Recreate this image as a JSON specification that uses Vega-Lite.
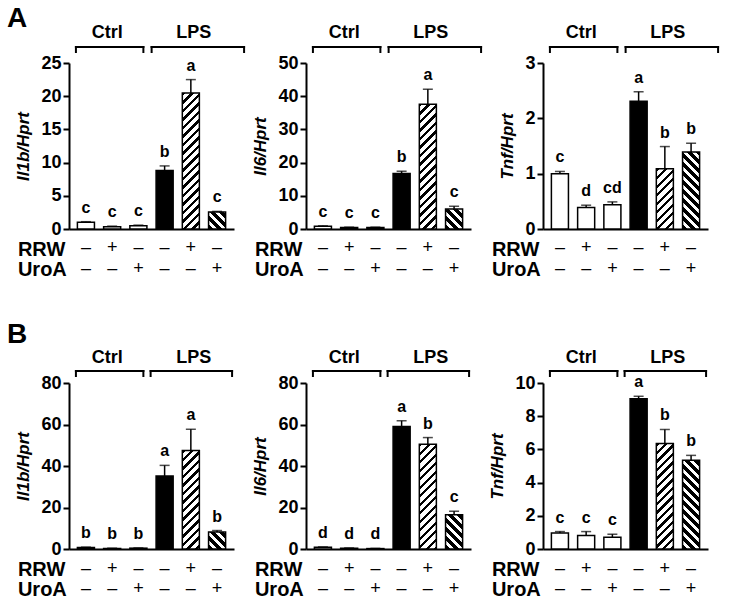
{
"$schema":"https://vega.github.io/schema/vega-lite/v6.json",
"background":"white",
"padding":{"left":7,"top":5,"right":5,"bottom":5},
"autosize":{"type":"pad"},
"params":[
{"name":"stopsR","value":[{"offset":0,"color":"#000"},{"offset":0.02,"color":"#000"},{"offset":0.02,"color":"#fff"},{"offset":0.05,"color":"#fff"},
{"offset":0.05,"color":"#000"},{"offset":0.07,"color":"#000"},{"offset":0.07,"color":"#fff"},{"offset":0.1,"color":"#fff"},
{"offset":0.1,"color":"#000"},{"offset":0.12,"color":"#000"},{"offset":0.12,"color":"#fff"},{"offset":0.15,"color":"#fff"},
{"offset":0.15,"color":"#000"},{"offset":0.17,"color":"#000"},{"offset":0.17,"color":"#fff"},{"offset":0.2,"color":"#fff"},
{"offset":0.2,"color":"#000"},{"offset":0.22,"color":"#000"},{"offset":0.22,"color":"#fff"},{"offset":0.25,"color":"#fff"},
{"offset":0.25,"color":"#000"},{"offset":0.27,"color":"#000"},{"offset":0.27,"color":"#fff"},{"offset":0.3,"color":"#fff"},
{"offset":0.3,"color":"#000"},{"offset":0.32,"color":"#000"},{"offset":0.32,"color":"#fff"},{"offset":0.35,"color":"#fff"},
{"offset":0.35,"color":"#000"},{"offset":0.37,"color":"#000"},{"offset":0.37,"color":"#fff"},{"offset":0.4,"color":"#fff"},
{"offset":0.4,"color":"#000"},{"offset":0.42,"color":"#000"},{"offset":0.42,"color":"#fff"},{"offset":0.45,"color":"#fff"},
{"offset":0.45,"color":"#000"},{"offset":0.47,"color":"#000"},{"offset":0.47,"color":"#fff"},{"offset":0.5,"color":"#fff"},
{"offset":0.5,"color":"#000"},{"offset":0.52,"color":"#000"},{"offset":0.52,"color":"#fff"},{"offset":0.55,"color":"#fff"},
{"offset":0.55,"color":"#000"},{"offset":0.57,"color":"#000"},{"offset":0.57,"color":"#fff"},{"offset":0.6,"color":"#fff"},
{"offset":0.6,"color":"#000"},{"offset":0.62,"color":"#000"},{"offset":0.62,"color":"#fff"},{"offset":0.65,"color":"#fff"},
{"offset":0.65,"color":"#000"},{"offset":0.67,"color":"#000"},{"offset":0.67,"color":"#fff"},{"offset":0.7,"color":"#fff"},
{"offset":0.7,"color":"#000"},{"offset":0.72,"color":"#000"},{"offset":0.72,"color":"#fff"},{"offset":0.75,"color":"#fff"},
{"offset":0.75,"color":"#000"},{"offset":0.77,"color":"#000"},{"offset":0.77,"color":"#fff"},{"offset":0.8,"color":"#fff"},
{"offset":0.8,"color":"#000"},{"offset":0.82,"color":"#000"},{"offset":0.82,"color":"#fff"},{"offset":0.85,"color":"#fff"},
{"offset":0.85,"color":"#000"},{"offset":0.87,"color":"#000"},{"offset":0.87,"color":"#fff"},{"offset":0.9,"color":"#fff"},
{"offset":0.9,"color":"#000"},{"offset":0.92,"color":"#000"},{"offset":0.92,"color":"#fff"},{"offset":0.95,"color":"#fff"},
{"offset":0.95,"color":"#000"},{"offset":0.97,"color":"#000"},{"offset":0.97,"color":"#fff"},{"offset":1,"color":"#fff"}]},
{"name":"stopsU","value":[{"offset":0,"color":"#000"},{"offset":0.0417,"color":"#000"},{"offset":0.0417,"color":"#fff"},{"offset":0.0833,"color":"#fff"},
{"offset":0.0833,"color":"#000"},{"offset":0.125,"color":"#000"},{"offset":0.125,"color":"#fff"},{"offset":0.1667,"color":"#fff"},
{"offset":0.1667,"color":"#000"},{"offset":0.2083,"color":"#000"},{"offset":0.2083,"color":"#fff"},{"offset":0.25,"color":"#fff"},
{"offset":0.25,"color":"#000"},{"offset":0.2917,"color":"#000"},{"offset":0.2917,"color":"#fff"},{"offset":0.3333,"color":"#fff"},
{"offset":0.3333,"color":"#000"},{"offset":0.375,"color":"#000"},{"offset":0.375,"color":"#fff"},{"offset":0.4167,"color":"#fff"},
{"offset":0.4167,"color":"#000"},{"offset":0.4583,"color":"#000"},{"offset":0.4583,"color":"#fff"},{"offset":0.5,"color":"#fff"},
{"offset":0.5,"color":"#000"},{"offset":0.5417,"color":"#000"},{"offset":0.5417,"color":"#fff"},{"offset":0.5833,"color":"#fff"},
{"offset":0.5833,"color":"#000"},{"offset":0.625,"color":"#000"},{"offset":0.625,"color":"#fff"},{"offset":0.6667,"color":"#fff"},
{"offset":0.6667,"color":"#000"},{"offset":0.7083,"color":"#000"},{"offset":0.7083,"color":"#fff"},{"offset":0.75,"color":"#fff"},
{"offset":0.75,"color":"#000"},{"offset":0.7917,"color":"#000"},{"offset":0.7917,"color":"#fff"},{"offset":0.8333,"color":"#fff"},
{"offset":0.8333,"color":"#000"},{"offset":0.875,"color":"#000"},{"offset":0.875,"color":"#fff"},{"offset":0.9167,"color":"#fff"},
{"offset":0.9167,"color":"#000"},{"offset":0.9583,"color":"#000"},{"offset":0.9583,"color":"#fff"},{"offset":1,"color":"#fff"}]}
],
"datasets":{
"bars":[
{"panel":"A1","key":"Ctrl|–|–","grp":"Ctrl","trt":"none","rrw":"–","uroa":"–","mean":1.0,"hi":1.1,"letter":"c"},
{"panel":"A1","key":"Ctrl|+|–","grp":"Ctrl","trt":"RRW","rrw":"+","uroa":"–","mean":0.35,"hi":0.43,"letter":"c"},
{"panel":"A1","key":"Ctrl|–|+","grp":"Ctrl","trt":"UroA","rrw":"–","uroa":"+","mean":0.5,"hi":0.58,"letter":"c"},
{"panel":"A1","key":"LPS|–|–","grp":"LPS","trt":"none","rrw":"–","uroa":"–","mean":8.8,"hi":9.5,"letter":"b"},
{"panel":"A1","key":"LPS|+|–","grp":"LPS","trt":"RRW","rrw":"+","uroa":"–","mean":20.5,"hi":22.5,"letter":"a"},
{"panel":"A1","key":"LPS|–|+","grp":"LPS","trt":"UroA","rrw":"–","uroa":"+","mean":2.55,"hi":2.65,"letter":"c"},
{"panel":"A2","key":"Ctrl|–|–","grp":"Ctrl","trt":"none","rrw":"–","uroa":"–","mean":0.8,"hi":0.95,"letter":"c"},
{"panel":"A2","key":"Ctrl|+|–","grp":"Ctrl","trt":"RRW","rrw":"+","uroa":"–","mean":0.45,"hi":0.55,"letter":"c"},
{"panel":"A2","key":"Ctrl|–|+","grp":"Ctrl","trt":"UroA","rrw":"–","uroa":"+","mean":0.45,"hi":0.55,"letter":"c"},
{"panel":"A2","key":"LPS|–|–","grp":"LPS","trt":"none","rrw":"–","uroa":"–","mean":16.7,"hi":17.4,"letter":"b"},
{"panel":"A2","key":"LPS|+|–","grp":"LPS","trt":"RRW","rrw":"+","uroa":"–","mean":37.6,"hi":42.1,"letter":"a"},
{"panel":"A2","key":"LPS|–|+","grp":"LPS","trt":"UroA","rrw":"–","uroa":"+","mean":6.0,"hi":6.85,"letter":"c"},
{"panel":"A3","key":"Ctrl|–|–","grp":"Ctrl","trt":"none","rrw":"–","uroa":"–","mean":1.0,"hi":1.04,"letter":"c"},
{"panel":"A3","key":"Ctrl|+|–","grp":"Ctrl","trt":"RRW","rrw":"+","uroa":"–","mean":0.39,"hi":0.43,"letter":"d"},
{"panel":"A3","key":"Ctrl|–|+","grp":"Ctrl","trt":"UroA","rrw":"–","uroa":"+","mean":0.44,"hi":0.49,"letter":"cd"},
{"panel":"A3","key":"LPS|–|–","grp":"LPS","trt":"none","rrw":"–","uroa":"–","mean":2.31,"hi":2.48,"letter":"a"},
{"panel":"A3","key":"LPS|+|–","grp":"LPS","trt":"RRW","rrw":"+","uroa":"–","mean":1.09,"hi":1.49,"letter":"b"},
{"panel":"A3","key":"LPS|–|+","grp":"LPS","trt":"UroA","rrw":"–","uroa":"+","mean":1.39,"hi":1.55,"letter":"b"},
{"panel":"B1","key":"Ctrl|–|–","grp":"Ctrl","trt":"none","rrw":"–","uroa":"–","mean":0.7,"hi":0.9,"letter":"b"},
{"panel":"B1","key":"Ctrl|+|–","grp":"Ctrl","trt":"RRW","rrw":"+","uroa":"–","mean":0.3,"hi":0.4,"letter":"b"},
{"panel":"B1","key":"Ctrl|–|+","grp":"Ctrl","trt":"UroA","rrw":"–","uroa":"+","mean":0.4,"hi":0.5,"letter":"b"},
{"panel":"B1","key":"LPS|–|–","grp":"LPS","trt":"none","rrw":"–","uroa":"–","mean":35.2,"hi":40.3,"letter":"a"},
{"panel":"B1","key":"LPS|+|–","grp":"LPS","trt":"RRW","rrw":"+","uroa":"–","mean":47.5,"hi":57.7,"letter":"a"},
{"panel":"B1","key":"LPS|–|+","grp":"LPS","trt":"UroA","rrw":"–","uroa":"+","mean":8.2,"hi":8.9,"letter":"b"},
{"panel":"B2","key":"Ctrl|–|–","grp":"Ctrl","trt":"none","rrw":"–","uroa":"–","mean":0.8,"hi":1.0,"letter":"d"},
{"panel":"B2","key":"Ctrl|+|–","grp":"Ctrl","trt":"RRW","rrw":"+","uroa":"–","mean":0.4,"hi":0.5,"letter":"d"},
{"panel":"B2","key":"Ctrl|–|+","grp":"Ctrl","trt":"UroA","rrw":"–","uroa":"+","mean":0.2,"hi":0.3,"letter":"d"},
{"panel":"B2","key":"LPS|–|–","grp":"LPS","trt":"none","rrw":"–","uroa":"–","mean":59.0,"hi":61.8,"letter":"a"},
{"panel":"B2","key":"LPS|+|–","grp":"LPS","trt":"RRW","rrw":"+","uroa":"–","mean":50.5,"hi":53.7,"letter":"b"},
{"panel":"B2","key":"LPS|–|+","grp":"LPS","trt":"UroA","rrw":"–","uroa":"+","mean":16.5,"hi":18.2,"letter":"c"},
{"panel":"B3","key":"Ctrl|–|–","grp":"Ctrl","trt":"none","rrw":"–","uroa":"–","mean":0.97,"hi":1.05,"letter":"c"},
{"panel":"B3","key":"Ctrl|+|–","grp":"Ctrl","trt":"RRW","rrw":"+","uroa":"–","mean":0.81,"hi":1.05,"letter":"c"},
{"panel":"B3","key":"Ctrl|–|+","grp":"Ctrl","trt":"UroA","rrw":"–","uroa":"+","mean":0.71,"hi":0.89,"letter":"c"},
{"panel":"B3","key":"LPS|–|–","grp":"LPS","trt":"none","rrw":"–","uroa":"–","mean":9.05,"hi":9.2,"letter":"a"},
{"panel":"B3","key":"LPS|+|–","grp":"LPS","trt":"RRW","rrw":"+","uroa":"–","mean":6.35,"hi":7.2,"letter":"b"},
{"panel":"B3","key":"LPS|–|+","grp":"LPS","trt":"UroA","rrw":"–","uroa":"+","mean":5.35,"hi":5.64,"letter":"b"}
],
"br":[
{"grp":"Ctrl","first":"Ctrl|–|–","mid":"Ctrl|+|–","last":"Ctrl|–|+"},
{"grp":"LPS","first":"LPS|–|–","mid":"LPS|+|–","last":"LPS|–|+"}
]
},
"columns":3,
"spacing":{"row":154,"column":72},
"bounds":"flush",
"concat":[
{
 "width":165,"height":166,
 "title":{"text":"A","anchor":"start","frame":"group","fontSize":28,"fontWeight":"bold","font":"Liberation Sans","color":"black","dx":-62,"dy":9,"offset":0},
 "resolve":{"axis":{"x":"independent","y":"independent"}},
 "layer":[
  {"data":{"name":"bars"},"transform":[{"filter":"datum.panel=='A1'"}],"mark":{"type":"rule","color":"black","strokeWidth":1.5},
   "encoding":{"x":{"field":"key","type":"nominal","scale":{"domain":["Ctrl|–|–","Ctrl|+|–","Ctrl|–|+","LPS|–|–","LPS|+|–","LPS|–|+"],"paddingInner":0.35,"paddingOuter":0.32},"axis":{"title":null,"labels":false,"ticks":false,"grid":false,"domainColor":"black","domainWidth":2}},
    "y":{"field":"mean","type":"quantitative","scale":{"domain":[0,25],"nice":false},"axis":{"title":"Il1b/Hprt","values":[0,5,10,15,20,25],"format":".0f","zindex":1,"grid":false,"domainColor":"black","domainWidth":2,"tickColor":"black","tickWidth":2,"tickSize":6,"labelFont":"Liberation Sans","labelFontSize":18,"labelFontWeight":"bold","labelColor":"black","labelPadding":2,"labelFlush":false,"labelOverlap":false,"labelBound":false,"titleFont":"Liberation Sans","titleFontSize":17,"titleFontStyle":"italic","titleFontWeight":"bold","titleColor":"black","titlePadding":8}},"y2":{"field":"hi"}}},
  {"data":{"name":"bars"},"transform":[{"filter":"datum.panel=='A1'"}],"mark":{"type":"tick","color":"black","thickness":1.5,"size":10},
   "encoding":{"x":{"field":"key","type":"nominal","scale":{"domain":["Ctrl|–|–","Ctrl|+|–","Ctrl|–|+","LPS|–|–","LPS|+|–","LPS|–|+"],"paddingInner":0.35,"paddingOuter":0.32},"axis":null},"y":{"field":"hi","type":"quantitative","scale":{"domain":[0,25],"nice":false},"axis":null}}},
  {"data":{"name":"bars"},"transform":[{"filter":"datum.panel=='A1'"}],"mark":{"type":"bar","stroke":"black","strokeWidth":1.5,"fill":{"expr":"datum.grp=='Ctrl'?'white':datum.trt=='none'?'black':datum.trt=='RRW'?{gradient:'linear',x1:0,y1:0,x2:2898.5/(290.7+pow(6.64*datum.mean,2)),y2:170*6.64*datum.mean/(290.7+pow(6.64*datum.mean,2)),stops:stopsR}:{gradient:'linear',x1:0,y1:1,x2:1841.4/(290.7+pow(6.64*datum.mean,2)),y2:1-108*6.64*datum.mean/(290.7+pow(6.64*datum.mean,2)),stops:stopsU}"}},
   "encoding":{"x":{"field":"key","type":"nominal","scale":{"domain":["Ctrl|–|–","Ctrl|+|–","Ctrl|–|+","LPS|–|–","LPS|+|–","LPS|–|+"],"paddingInner":0.35,"paddingOuter":0.32},"axis":null},"y":{"field":"mean","type":"quantitative","scale":{"domain":[0,25],"nice":false},"axis":null}}},
  {"data":{"name":"bars"},"transform":[{"filter":"datum.panel=='A1'"}],"mark":{"type":"text","dy":-9,"baseline":"alphabetic","fontSize":16,"fontWeight":"bold","color":"black"},
   "encoding":{"x":{"field":"key","type":"nominal","scale":{"domain":["Ctrl|–|–","Ctrl|+|–","Ctrl|–|+","LPS|–|–","LPS|+|–","LPS|–|+"],"paddingInner":0.35,"paddingOuter":0.32},"axis":null},"y":{"field":"hi","type":"quantitative","scale":{"domain":[0,25],"nice":false},"axis":null},"text":{"field":"letter"}}},
  {"data":{"name":"bars"},"transform":[{"filter":"datum.panel=='A1'"}],"mark":{"type":"text","dy":24,"baseline":"alphabetic","fontSize":18,"color":"black"},
   "encoding":{"x":{"field":"key","type":"nominal","scale":{"domain":["Ctrl|–|–","Ctrl|+|–","Ctrl|–|+","LPS|–|–","LPS|+|–","LPS|–|+"],"paddingInner":0.35,"paddingOuter":0.32},"axis":null},"y":{"datum":0,"type":"quantitative","scale":{"domain":[0,25],"nice":false},"axis":null},"text":{"field":"rrw"}}},
  {"data":{"name":"bars"},"transform":[{"filter":"datum.panel=='A1'"}],"mark":{"type":"text","dy":45,"baseline":"alphabetic","fontSize":18,"color":"black"},
   "encoding":{"x":{"field":"key","type":"nominal","scale":{"domain":["Ctrl|–|–","Ctrl|+|–","Ctrl|–|+","LPS|–|–","LPS|+|–","LPS|–|+"],"paddingInner":0.35,"paddingOuter":0.32},"axis":null},"y":{"datum":0,"type":"quantitative","scale":{"domain":[0,25],"nice":false},"axis":null},"text":{"field":"uroa"}}},
  {"data":{"name":"br"},"transform":[{"filter":"datum.grp=='Ctrl'"}],"mark":{"type":"text","dy":26.5,"xOffset":-68,"align":"left","baseline":"alphabetic","fontSize":20,"fontWeight":"bold","color":"black","lineHeight":20.5,"text":["RRW","UroA"]},
   "encoding":{"x":{"field":"first","type":"nominal","scale":{"domain":["Ctrl|–|–","Ctrl|+|–","Ctrl|–|+","LPS|–|–","LPS|+|–","LPS|–|+"],"paddingInner":0.35,"paddingOuter":0.32},"axis":null},"y":{"datum":0,"type":"quantitative","scale":{"domain":[0,25],"nice":false},"axis":null}}},
  {"data":{"name":"br"},"mark":{"type":"rule","color":"black","strokeWidth":2,"strokeCap":"square","yOffset":-16,"xOffset":{"expr":"datum.grp=='Ctrl'?-10:-13"},"x2Offset":{"expr":"datum.grp=='Ctrl'?5:27"}},
   "encoding":{"x":{"field":"first","type":"nominal","scale":{"domain":["Ctrl|–|–","Ctrl|+|–","Ctrl|–|+","LPS|–|–","LPS|+|–","LPS|–|+"],"paddingInner":0.35,"paddingOuter":0.32},"axis":null},"x2":{"field":"last"},"y":{"datum":25,"type":"quantitative","scale":{"domain":[0,25],"nice":false},"axis":null}}},
  {"data":{"name":"br"},"mark":{"type":"rule","color":"black","strokeWidth":2,"strokeCap":"square","yOffset":-16,"y2Offset":-11,"xOffset":{"expr":"datum.grp=='Ctrl'?-10:-13"}},
   "encoding":{"x":{"field":"first","type":"nominal","scale":{"domain":["Ctrl|–|–","Ctrl|+|–","Ctrl|–|+","LPS|–|–","LPS|+|–","LPS|–|+"],"paddingInner":0.35,"paddingOuter":0.32},"axis":null},"y":{"datum":25,"type":"quantitative","scale":{"domain":[0,25],"nice":false},"axis":null},"y2":{"datum":25}}},
  {"data":{"name":"br"},"mark":{"type":"rule","color":"black","strokeWidth":2,"strokeCap":"square","yOffset":-16,"y2Offset":-11,"xOffset":{"expr":"datum.grp=='Ctrl'?5:27"}},
   "encoding":{"x":{"field":"last","type":"nominal","scale":{"domain":["Ctrl|–|–","Ctrl|+|–","Ctrl|–|+","LPS|–|–","LPS|+|–","LPS|–|+"],"paddingInner":0.35,"paddingOuter":0.32},"axis":null},"y":{"datum":25,"type":"quantitative","scale":{"domain":[0,25],"nice":false},"axis":null},"y2":{"datum":25}}},
  {"data":{"name":"br"},"mark":{"type":"text","dy":-30,"baseline":"middle","fontSize":18,"fontWeight":"bold","color":"black","xOffset":{"expr":"datum.grp=='Ctrl'?-5:3"}},
   "encoding":{"x":{"field":"mid","type":"nominal","scale":{"domain":["Ctrl|–|–","Ctrl|+|–","Ctrl|–|+","LPS|–|–","LPS|+|–","LPS|–|+"],"paddingInner":0.35,"paddingOuter":0.32},"axis":null},"y":{"datum":25,"type":"quantitative","scale":{"domain":[0,25],"nice":false},"axis":null},"text":{"field":"grp"}}}
 ]
},
{
 "width":165,"height":166,
 "resolve":{"axis":{"x":"independent","y":"independent"}},
 "layer":[
  {"data":{"name":"bars"},"transform":[{"filter":"datum.panel=='A2'"}],"mark":{"type":"rule","color":"black","strokeWidth":1.5},
   "encoding":{"x":{"field":"key","type":"nominal","scale":{"domain":["Ctrl|–|–","Ctrl|+|–","Ctrl|–|+","LPS|–|–","LPS|+|–","LPS|–|+"],"paddingInner":0.35,"paddingOuter":0.32},"axis":{"title":null,"labels":false,"ticks":false,"grid":false,"domainColor":"black","domainWidth":2}},
    "y":{"field":"mean","type":"quantitative","scale":{"domain":[0,50],"nice":false},"axis":{"title":"Il6/Hprt","values":[0,10,20,30,40,50],"format":".0f","zindex":1,"grid":false,"domainColor":"black","domainWidth":2,"tickColor":"black","tickWidth":2,"tickSize":6,"labelFont":"Liberation Sans","labelFontSize":18,"labelFontWeight":"bold","labelColor":"black","labelPadding":2,"labelFlush":false,"labelOverlap":false,"labelBound":false,"titleFont":"Liberation Sans","titleFontSize":17,"titleFontStyle":"italic","titleFontWeight":"bold","titleColor":"black","titlePadding":8}},"y2":{"field":"hi"}}},
  {"data":{"name":"bars"},"transform":[{"filter":"datum.panel=='A2'"}],"mark":{"type":"tick","color":"black","thickness":1.5,"size":10},
   "encoding":{"x":{"field":"key","type":"nominal","scale":{"domain":["Ctrl|–|–","Ctrl|+|–","Ctrl|–|+","LPS|–|–","LPS|+|–","LPS|–|+"],"paddingInner":0.35,"paddingOuter":0.32},"axis":null},"y":{"field":"hi","type":"quantitative","scale":{"domain":[0,50],"nice":false},"axis":null}}},
  {"data":{"name":"bars"},"transform":[{"filter":"datum.panel=='A2'"}],"mark":{"type":"bar","stroke":"black","strokeWidth":1.5,"fill":{"expr":"datum.grp=='Ctrl'?'white':datum.trt=='none'?'black':datum.trt=='RRW'?{gradient:'linear',x1:0,y1:0,x2:2898.5/(290.7+pow(3.32*datum.mean,2)),y2:170*3.32*datum.mean/(290.7+pow(3.32*datum.mean,2)),stops:stopsR}:{gradient:'linear',x1:0,y1:1,x2:1841.4/(290.7+pow(3.32*datum.mean,2)),y2:1-108*3.32*datum.mean/(290.7+pow(3.32*datum.mean,2)),stops:stopsU}"}},
   "encoding":{"x":{"field":"key","type":"nominal","scale":{"domain":["Ctrl|–|–","Ctrl|+|–","Ctrl|–|+","LPS|–|–","LPS|+|–","LPS|–|+"],"paddingInner":0.35,"paddingOuter":0.32},"axis":null},"y":{"field":"mean","type":"quantitative","scale":{"domain":[0,50],"nice":false},"axis":null}}},
  {"data":{"name":"bars"},"transform":[{"filter":"datum.panel=='A2'"}],"mark":{"type":"text","dy":-9,"baseline":"alphabetic","fontSize":16,"fontWeight":"bold","color":"black"},
   "encoding":{"x":{"field":"key","type":"nominal","scale":{"domain":["Ctrl|–|–","Ctrl|+|–","Ctrl|–|+","LPS|–|–","LPS|+|–","LPS|–|+"],"paddingInner":0.35,"paddingOuter":0.32},"axis":null},"y":{"field":"hi","type":"quantitative","scale":{"domain":[0,50],"nice":false},"axis":null},"text":{"field":"letter"}}},
  {"data":{"name":"bars"},"transform":[{"filter":"datum.panel=='A2'"}],"mark":{"type":"text","dy":24,"baseline":"alphabetic","fontSize":18,"color":"black"},
   "encoding":{"x":{"field":"key","type":"nominal","scale":{"domain":["Ctrl|–|–","Ctrl|+|–","Ctrl|–|+","LPS|–|–","LPS|+|–","LPS|–|+"],"paddingInner":0.35,"paddingOuter":0.32},"axis":null},"y":{"datum":0,"type":"quantitative","scale":{"domain":[0,50],"nice":false},"axis":null},"text":{"field":"rrw"}}},
  {"data":{"name":"bars"},"transform":[{"filter":"datum.panel=='A2'"}],"mark":{"type":"text","dy":45,"baseline":"alphabetic","fontSize":18,"color":"black"},
   "encoding":{"x":{"field":"key","type":"nominal","scale":{"domain":["Ctrl|–|–","Ctrl|+|–","Ctrl|–|+","LPS|–|–","LPS|+|–","LPS|–|+"],"paddingInner":0.35,"paddingOuter":0.32},"axis":null},"y":{"datum":0,"type":"quantitative","scale":{"domain":[0,50],"nice":false},"axis":null},"text":{"field":"uroa"}}},
  {"data":{"name":"br"},"transform":[{"filter":"datum.grp=='Ctrl'"}],"mark":{"type":"text","dy":26.5,"xOffset":-68,"align":"left","baseline":"alphabetic","fontSize":20,"fontWeight":"bold","color":"black","lineHeight":20.5,"text":["RRW","UroA"]},
   "encoding":{"x":{"field":"first","type":"nominal","scale":{"domain":["Ctrl|–|–","Ctrl|+|–","Ctrl|–|+","LPS|–|–","LPS|+|–","LPS|–|+"],"paddingInner":0.35,"paddingOuter":0.32},"axis":null},"y":{"datum":0,"type":"quantitative","scale":{"domain":[0,50],"nice":false},"axis":null}}},
  {"data":{"name":"br"},"mark":{"type":"rule","color":"black","strokeWidth":2,"strokeCap":"square","yOffset":-16,"xOffset":{"expr":"datum.grp=='Ctrl'?-10:-13"},"x2Offset":{"expr":"datum.grp=='Ctrl'?5:27"}},
   "encoding":{"x":{"field":"first","type":"nominal","scale":{"domain":["Ctrl|–|–","Ctrl|+|–","Ctrl|–|+","LPS|–|–","LPS|+|–","LPS|–|+"],"paddingInner":0.35,"paddingOuter":0.32},"axis":null},"x2":{"field":"last"},"y":{"datum":50,"type":"quantitative","scale":{"domain":[0,50],"nice":false},"axis":null}}},
  {"data":{"name":"br"},"mark":{"type":"rule","color":"black","strokeWidth":2,"strokeCap":"square","yOffset":-16,"y2Offset":-11,"xOffset":{"expr":"datum.grp=='Ctrl'?-10:-13"}},
   "encoding":{"x":{"field":"first","type":"nominal","scale":{"domain":["Ctrl|–|–","Ctrl|+|–","Ctrl|–|+","LPS|–|–","LPS|+|–","LPS|–|+"],"paddingInner":0.35,"paddingOuter":0.32},"axis":null},"y":{"datum":50,"type":"quantitative","scale":{"domain":[0,50],"nice":false},"axis":null},"y2":{"datum":50}}},
  {"data":{"name":"br"},"mark":{"type":"rule","color":"black","strokeWidth":2,"strokeCap":"square","yOffset":-16,"y2Offset":-11,"xOffset":{"expr":"datum.grp=='Ctrl'?5:27"}},
   "encoding":{"x":{"field":"last","type":"nominal","scale":{"domain":["Ctrl|–|–","Ctrl|+|–","Ctrl|–|+","LPS|–|–","LPS|+|–","LPS|–|+"],"paddingInner":0.35,"paddingOuter":0.32},"axis":null},"y":{"datum":50,"type":"quantitative","scale":{"domain":[0,50],"nice":false},"axis":null},"y2":{"datum":50}}},
  {"data":{"name":"br"},"mark":{"type":"text","dy":-30,"baseline":"middle","fontSize":18,"fontWeight":"bold","color":"black","xOffset":{"expr":"datum.grp=='Ctrl'?-5:3"}},
   "encoding":{"x":{"field":"mid","type":"nominal","scale":{"domain":["Ctrl|–|–","Ctrl|+|–","Ctrl|–|+","LPS|–|–","LPS|+|–","LPS|–|+"],"paddingInner":0.35,"paddingOuter":0.32},"axis":null},"y":{"datum":50,"type":"quantitative","scale":{"domain":[0,50],"nice":false},"axis":null},"text":{"field":"grp"}}}
 ]
},
{
 "width":165,"height":166,
 "resolve":{"axis":{"x":"independent","y":"independent"}},
 "layer":[
  {"data":{"name":"bars"},"transform":[{"filter":"datum.panel=='A3'"}],"mark":{"type":"rule","color":"black","strokeWidth":1.5},
   "encoding":{"x":{"field":"key","type":"nominal","scale":{"domain":["Ctrl|–|–","Ctrl|+|–","Ctrl|–|+","LPS|–|–","LPS|+|–","LPS|–|+"],"paddingInner":0.35,"paddingOuter":0.32},"axis":{"title":null,"labels":false,"ticks":false,"grid":false,"domainColor":"black","domainWidth":2}},
    "y":{"field":"mean","type":"quantitative","scale":{"domain":[0,3],"nice":false},"axis":{"title":"Tnf/Hprt","values":[0,1,2,3],"format":".0f","zindex":1,"grid":false,"domainColor":"black","domainWidth":2,"tickColor":"black","tickWidth":2,"tickSize":6,"labelFont":"Liberation Sans","labelFontSize":18,"labelFontWeight":"bold","labelColor":"black","labelPadding":2,"labelFlush":false,"labelOverlap":false,"labelBound":false,"titleFont":"Liberation Sans","titleFontSize":17,"titleFontStyle":"italic","titleFontWeight":"bold","titleColor":"black","titlePadding":8}},"y2":{"field":"hi"}}},
  {"data":{"name":"bars"},"transform":[{"filter":"datum.panel=='A3'"}],"mark":{"type":"tick","color":"black","thickness":1.5,"size":10},
   "encoding":{"x":{"field":"key","type":"nominal","scale":{"domain":["Ctrl|–|–","Ctrl|+|–","Ctrl|–|+","LPS|–|–","LPS|+|–","LPS|–|+"],"paddingInner":0.35,"paddingOuter":0.32},"axis":null},"y":{"field":"hi","type":"quantitative","scale":{"domain":[0,3],"nice":false},"axis":null}}},
  {"data":{"name":"bars"},"transform":[{"filter":"datum.panel=='A3'"}],"mark":{"type":"bar","stroke":"black","strokeWidth":1.5,"fill":{"expr":"datum.grp=='Ctrl'?'white':datum.trt=='none'?'black':datum.trt=='RRW'?{gradient:'linear',x1:0,y1:0,x2:2898.5/(290.7+pow(55.333*datum.mean,2)),y2:170*55.333*datum.mean/(290.7+pow(55.333*datum.mean,2)),stops:stopsR}:{gradient:'linear',x1:0,y1:1,x2:1841.4/(290.7+pow(55.333*datum.mean,2)),y2:1-108*55.333*datum.mean/(290.7+pow(55.333*datum.mean,2)),stops:stopsU}"}},
   "encoding":{"x":{"field":"key","type":"nominal","scale":{"domain":["Ctrl|–|–","Ctrl|+|–","Ctrl|–|+","LPS|–|–","LPS|+|–","LPS|–|+"],"paddingInner":0.35,"paddingOuter":0.32},"axis":null},"y":{"field":"mean","type":"quantitative","scale":{"domain":[0,3],"nice":false},"axis":null}}},
  {"data":{"name":"bars"},"transform":[{"filter":"datum.panel=='A3'"}],"mark":{"type":"text","dy":-9,"baseline":"alphabetic","fontSize":16,"fontWeight":"bold","color":"black"},
   "encoding":{"x":{"field":"key","type":"nominal","scale":{"domain":["Ctrl|–|–","Ctrl|+|–","Ctrl|–|+","LPS|–|–","LPS|+|–","LPS|–|+"],"paddingInner":0.35,"paddingOuter":0.32},"axis":null},"y":{"field":"hi","type":"quantitative","scale":{"domain":[0,3],"nice":false},"axis":null},"text":{"field":"letter"}}},
  {"data":{"name":"bars"},"transform":[{"filter":"datum.panel=='A3'"}],"mark":{"type":"text","dy":24,"baseline":"alphabetic","fontSize":18,"color":"black"},
   "encoding":{"x":{"field":"key","type":"nominal","scale":{"domain":["Ctrl|–|–","Ctrl|+|–","Ctrl|–|+","LPS|–|–","LPS|+|–","LPS|–|+"],"paddingInner":0.35,"paddingOuter":0.32},"axis":null},"y":{"datum":0,"type":"quantitative","scale":{"domain":[0,3],"nice":false},"axis":null},"text":{"field":"rrw"}}},
  {"data":{"name":"bars"},"transform":[{"filter":"datum.panel=='A3'"}],"mark":{"type":"text","dy":45,"baseline":"alphabetic","fontSize":18,"color":"black"},
   "encoding":{"x":{"field":"key","type":"nominal","scale":{"domain":["Ctrl|–|–","Ctrl|+|–","Ctrl|–|+","LPS|–|–","LPS|+|–","LPS|–|+"],"paddingInner":0.35,"paddingOuter":0.32},"axis":null},"y":{"datum":0,"type":"quantitative","scale":{"domain":[0,3],"nice":false},"axis":null},"text":{"field":"uroa"}}},
  {"data":{"name":"br"},"transform":[{"filter":"datum.grp=='Ctrl'"}],"mark":{"type":"text","dy":26.5,"xOffset":-68,"align":"left","baseline":"alphabetic","fontSize":20,"fontWeight":"bold","color":"black","lineHeight":20.5,"text":["RRW","UroA"]},
   "encoding":{"x":{"field":"first","type":"nominal","scale":{"domain":["Ctrl|–|–","Ctrl|+|–","Ctrl|–|+","LPS|–|–","LPS|+|–","LPS|–|+"],"paddingInner":0.35,"paddingOuter":0.32},"axis":null},"y":{"datum":0,"type":"quantitative","scale":{"domain":[0,3],"nice":false},"axis":null}}},
  {"data":{"name":"br"},"mark":{"type":"rule","color":"black","strokeWidth":2,"strokeCap":"square","yOffset":-16,"xOffset":{"expr":"datum.grp=='Ctrl'?-10:-13"},"x2Offset":{"expr":"datum.grp=='Ctrl'?5:27"}},
   "encoding":{"x":{"field":"first","type":"nominal","scale":{"domain":["Ctrl|–|–","Ctrl|+|–","Ctrl|–|+","LPS|–|–","LPS|+|–","LPS|–|+"],"paddingInner":0.35,"paddingOuter":0.32},"axis":null},"x2":{"field":"last"},"y":{"datum":3,"type":"quantitative","scale":{"domain":[0,3],"nice":false},"axis":null}}},
  {"data":{"name":"br"},"mark":{"type":"rule","color":"black","strokeWidth":2,"strokeCap":"square","yOffset":-16,"y2Offset":-11,"xOffset":{"expr":"datum.grp=='Ctrl'?-10:-13"}},
   "encoding":{"x":{"field":"first","type":"nominal","scale":{"domain":["Ctrl|–|–","Ctrl|+|–","Ctrl|–|+","LPS|–|–","LPS|+|–","LPS|–|+"],"paddingInner":0.35,"paddingOuter":0.32},"axis":null},"y":{"datum":3,"type":"quantitative","scale":{"domain":[0,3],"nice":false},"axis":null},"y2":{"datum":3}}},
  {"data":{"name":"br"},"mark":{"type":"rule","color":"black","strokeWidth":2,"strokeCap":"square","yOffset":-16,"y2Offset":-11,"xOffset":{"expr":"datum.grp=='Ctrl'?5:27"}},
   "encoding":{"x":{"field":"last","type":"nominal","scale":{"domain":["Ctrl|–|–","Ctrl|+|–","Ctrl|–|+","LPS|–|–","LPS|+|–","LPS|–|+"],"paddingInner":0.35,"paddingOuter":0.32},"axis":null},"y":{"datum":3,"type":"quantitative","scale":{"domain":[0,3],"nice":false},"axis":null},"y2":{"datum":3}}},
  {"data":{"name":"br"},"mark":{"type":"text","dy":-30,"baseline":"middle","fontSize":18,"fontWeight":"bold","color":"black","xOffset":{"expr":"datum.grp=='Ctrl'?-5:3"}},
   "encoding":{"x":{"field":"mid","type":"nominal","scale":{"domain":["Ctrl|–|–","Ctrl|+|–","Ctrl|–|+","LPS|–|–","LPS|+|–","LPS|–|+"],"paddingInner":0.35,"paddingOuter":0.32},"axis":null},"y":{"datum":3,"type":"quantitative","scale":{"domain":[0,3],"nice":false},"axis":null},"text":{"field":"grp"}}}
 ]
},
{
 "width":165,"height":166,
 "title":{"text":"B","anchor":"start","frame":"group","fontSize":28,"fontWeight":"bold","font":"Liberation Sans","color":"black","dx":-62,"offset":0},
 "resolve":{"axis":{"x":"independent","y":"independent"}},
 "layer":[
  {"data":{"name":"bars"},"transform":[{"filter":"datum.panel=='B1'"}],"mark":{"type":"rule","color":"black","strokeWidth":1.5},
   "encoding":{"x":{"field":"key","type":"nominal","scale":{"domain":["Ctrl|–|–","Ctrl|+|–","Ctrl|–|+","LPS|–|–","LPS|+|–","LPS|–|+"],"paddingInner":0.35,"paddingOuter":0.32},"axis":{"title":null,"labels":false,"ticks":false,"grid":false,"domainColor":"black","domainWidth":2}},
    "y":{"field":"mean","type":"quantitative","scale":{"domain":[0,80],"nice":false},"axis":{"title":"Il1b/Hprt","values":[0,20,40,60,80],"format":".0f","zindex":1,"grid":false,"domainColor":"black","domainWidth":2,"tickColor":"black","tickWidth":2,"tickSize":6,"labelFont":"Liberation Sans","labelFontSize":18,"labelFontWeight":"bold","labelColor":"black","labelPadding":2,"labelFlush":false,"labelOverlap":false,"labelBound":false,"titleFont":"Liberation Sans","titleFontSize":17,"titleFontStyle":"italic","titleFontWeight":"bold","titleColor":"black","titlePadding":8}},"y2":{"field":"hi"}}},
  {"data":{"name":"bars"},"transform":[{"filter":"datum.panel=='B1'"}],"mark":{"type":"tick","color":"black","thickness":1.5,"size":10},
   "encoding":{"x":{"field":"key","type":"nominal","scale":{"domain":["Ctrl|–|–","Ctrl|+|–","Ctrl|–|+","LPS|–|–","LPS|+|–","LPS|–|+"],"paddingInner":0.35,"paddingOuter":0.32},"axis":null},"y":{"field":"hi","type":"quantitative","scale":{"domain":[0,80],"nice":false},"axis":null}}},
  {"data":{"name":"bars"},"transform":[{"filter":"datum.panel=='B1'"}],"mark":{"type":"bar","stroke":"black","strokeWidth":1.5,"fill":{"expr":"datum.grp=='Ctrl'?'white':datum.trt=='none'?'black':datum.trt=='RRW'?{gradient:'linear',x1:0,y1:0,x2:2898.5/(290.7+pow(2.075*datum.mean,2)),y2:170*2.075*datum.mean/(290.7+pow(2.075*datum.mean,2)),stops:stopsR}:{gradient:'linear',x1:0,y1:1,x2:1841.4/(290.7+pow(2.075*datum.mean,2)),y2:1-108*2.075*datum.mean/(290.7+pow(2.075*datum.mean,2)),stops:stopsU}"}},
   "encoding":{"x":{"field":"key","type":"nominal","scale":{"domain":["Ctrl|–|–","Ctrl|+|–","Ctrl|–|+","LPS|–|–","LPS|+|–","LPS|–|+"],"paddingInner":0.35,"paddingOuter":0.32},"axis":null},"y":{"field":"mean","type":"quantitative","scale":{"domain":[0,80],"nice":false},"axis":null}}},
  {"data":{"name":"bars"},"transform":[{"filter":"datum.panel=='B1'"}],"mark":{"type":"text","dy":-9,"baseline":"alphabetic","fontSize":16,"fontWeight":"bold","color":"black"},
   "encoding":{"x":{"field":"key","type":"nominal","scale":{"domain":["Ctrl|–|–","Ctrl|+|–","Ctrl|–|+","LPS|–|–","LPS|+|–","LPS|–|+"],"paddingInner":0.35,"paddingOuter":0.32},"axis":null},"y":{"field":"hi","type":"quantitative","scale":{"domain":[0,80],"nice":false},"axis":null},"text":{"field":"letter"}}},
  {"data":{"name":"bars"},"transform":[{"filter":"datum.panel=='B1'"}],"mark":{"type":"text","dy":25,"baseline":"alphabetic","fontSize":18,"color":"black"},
   "encoding":{"x":{"field":"key","type":"nominal","scale":{"domain":["Ctrl|–|–","Ctrl|+|–","Ctrl|–|+","LPS|–|–","LPS|+|–","LPS|–|+"],"paddingInner":0.35,"paddingOuter":0.32},"axis":null},"y":{"datum":0,"type":"quantitative","scale":{"domain":[0,80],"nice":false},"axis":null},"text":{"field":"rrw"}}},
  {"data":{"name":"bars"},"transform":[{"filter":"datum.panel=='B1'"}],"mark":{"type":"text","dy":45,"baseline":"alphabetic","fontSize":18,"color":"black"},
   "encoding":{"x":{"field":"key","type":"nominal","scale":{"domain":["Ctrl|–|–","Ctrl|+|–","Ctrl|–|+","LPS|–|–","LPS|+|–","LPS|–|+"],"paddingInner":0.35,"paddingOuter":0.32},"axis":null},"y":{"datum":0,"type":"quantitative","scale":{"domain":[0,80],"nice":false},"axis":null},"text":{"field":"uroa"}}},
  {"data":{"name":"br"},"transform":[{"filter":"datum.grp=='Ctrl'"}],"mark":{"type":"text","dy":26.5,"xOffset":-68,"align":"left","baseline":"alphabetic","fontSize":20,"fontWeight":"bold","color":"black","lineHeight":20.5,"text":["RRW","UroA"]},
   "encoding":{"x":{"field":"first","type":"nominal","scale":{"domain":["Ctrl|–|–","Ctrl|+|–","Ctrl|–|+","LPS|–|–","LPS|+|–","LPS|–|+"],"paddingInner":0.35,"paddingOuter":0.32},"axis":null},"y":{"datum":0,"type":"quantitative","scale":{"domain":[0,80],"nice":false},"axis":null}}},
  {"data":{"name":"br"},"mark":{"type":"rule","color":"black","strokeWidth":2,"strokeCap":"square","yOffset":-12,"xOffset":{"expr":"datum.grp=='Ctrl'?-10:-14"},"x2Offset":{"expr":"datum.grp=='Ctrl'?5:15"}},
   "encoding":{"x":{"field":"first","type":"nominal","scale":{"domain":["Ctrl|–|–","Ctrl|+|–","Ctrl|–|+","LPS|–|–","LPS|+|–","LPS|–|+"],"paddingInner":0.35,"paddingOuter":0.32},"axis":null},"x2":{"field":"last"},"y":{"datum":80,"type":"quantitative","scale":{"domain":[0,80],"nice":false},"axis":null}}},
  {"data":{"name":"br"},"mark":{"type":"rule","color":"black","strokeWidth":2,"strokeCap":"square","yOffset":-12,"y2Offset":-7,"xOffset":{"expr":"datum.grp=='Ctrl'?-10:-14"}},
   "encoding":{"x":{"field":"first","type":"nominal","scale":{"domain":["Ctrl|–|–","Ctrl|+|–","Ctrl|–|+","LPS|–|–","LPS|+|–","LPS|–|+"],"paddingInner":0.35,"paddingOuter":0.32},"axis":null},"y":{"datum":80,"type":"quantitative","scale":{"domain":[0,80],"nice":false},"axis":null},"y2":{"datum":80}}},
  {"data":{"name":"br"},"mark":{"type":"rule","color":"black","strokeWidth":2,"strokeCap":"square","yOffset":-12,"y2Offset":-7,"xOffset":{"expr":"datum.grp=='Ctrl'?5:15"}},
   "encoding":{"x":{"field":"last","type":"nominal","scale":{"domain":["Ctrl|–|–","Ctrl|+|–","Ctrl|–|+","LPS|–|–","LPS|+|–","LPS|–|+"],"paddingInner":0.35,"paddingOuter":0.32},"axis":null},"y":{"datum":80,"type":"quantitative","scale":{"domain":[0,80],"nice":false},"axis":null},"y2":{"datum":80}}},
  {"data":{"name":"br"},"mark":{"type":"text","dy":-25,"baseline":"middle","fontSize":18,"fontWeight":"bold","color":"black","xOffset":{"expr":"datum.grp=='Ctrl'?-5:3"}},
   "encoding":{"x":{"field":"mid","type":"nominal","scale":{"domain":["Ctrl|–|–","Ctrl|+|–","Ctrl|–|+","LPS|–|–","LPS|+|–","LPS|–|+"],"paddingInner":0.35,"paddingOuter":0.32},"axis":null},"y":{"datum":80,"type":"quantitative","scale":{"domain":[0,80],"nice":false},"axis":null},"text":{"field":"grp"}}}
 ]
},
{
 "width":165,"height":166,
 "resolve":{"axis":{"x":"independent","y":"independent"}},
 "layer":[
  {"data":{"name":"bars"},"transform":[{"filter":"datum.panel=='B2'"}],"mark":{"type":"rule","color":"black","strokeWidth":1.5},
   "encoding":{"x":{"field":"key","type":"nominal","scale":{"domain":["Ctrl|–|–","Ctrl|+|–","Ctrl|–|+","LPS|–|–","LPS|+|–","LPS|–|+"],"paddingInner":0.35,"paddingOuter":0.32},"axis":{"title":null,"labels":false,"ticks":false,"grid":false,"domainColor":"black","domainWidth":2}},
    "y":{"field":"mean","type":"quantitative","scale":{"domain":[0,80],"nice":false},"axis":{"title":"Il6/Hprt","values":[0,20,40,60,80],"format":".0f","zindex":1,"grid":false,"domainColor":"black","domainWidth":2,"tickColor":"black","tickWidth":2,"tickSize":6,"labelFont":"Liberation Sans","labelFontSize":18,"labelFontWeight":"bold","labelColor":"black","labelPadding":2,"labelFlush":false,"labelOverlap":false,"labelBound":false,"titleFont":"Liberation Sans","titleFontSize":17,"titleFontStyle":"italic","titleFontWeight":"bold","titleColor":"black","titlePadding":8}},"y2":{"field":"hi"}}},
  {"data":{"name":"bars"},"transform":[{"filter":"datum.panel=='B2'"}],"mark":{"type":"tick","color":"black","thickness":1.5,"size":10},
   "encoding":{"x":{"field":"key","type":"nominal","scale":{"domain":["Ctrl|–|–","Ctrl|+|–","Ctrl|–|+","LPS|–|–","LPS|+|–","LPS|–|+"],"paddingInner":0.35,"paddingOuter":0.32},"axis":null},"y":{"field":"hi","type":"quantitative","scale":{"domain":[0,80],"nice":false},"axis":null}}},
  {"data":{"name":"bars"},"transform":[{"filter":"datum.panel=='B2'"}],"mark":{"type":"bar","stroke":"black","strokeWidth":1.5,"fill":{"expr":"datum.grp=='Ctrl'?'white':datum.trt=='none'?'black':datum.trt=='RRW'?{gradient:'linear',x1:0,y1:0,x2:2898.5/(290.7+pow(2.075*datum.mean,2)),y2:170*2.075*datum.mean/(290.7+pow(2.075*datum.mean,2)),stops:stopsR}:{gradient:'linear',x1:0,y1:1,x2:1841.4/(290.7+pow(2.075*datum.mean,2)),y2:1-108*2.075*datum.mean/(290.7+pow(2.075*datum.mean,2)),stops:stopsU}"}},
   "encoding":{"x":{"field":"key","type":"nominal","scale":{"domain":["Ctrl|–|–","Ctrl|+|–","Ctrl|–|+","LPS|–|–","LPS|+|–","LPS|–|+"],"paddingInner":0.35,"paddingOuter":0.32},"axis":null},"y":{"field":"mean","type":"quantitative","scale":{"domain":[0,80],"nice":false},"axis":null}}},
  {"data":{"name":"bars"},"transform":[{"filter":"datum.panel=='B2'"}],"mark":{"type":"text","dy":-9,"baseline":"alphabetic","fontSize":16,"fontWeight":"bold","color":"black"},
   "encoding":{"x":{"field":"key","type":"nominal","scale":{"domain":["Ctrl|–|–","Ctrl|+|–","Ctrl|–|+","LPS|–|–","LPS|+|–","LPS|–|+"],"paddingInner":0.35,"paddingOuter":0.32},"axis":null},"y":{"field":"hi","type":"quantitative","scale":{"domain":[0,80],"nice":false},"axis":null},"text":{"field":"letter"}}},
  {"data":{"name":"bars"},"transform":[{"filter":"datum.panel=='B2'"}],"mark":{"type":"text","dy":25,"baseline":"alphabetic","fontSize":18,"color":"black"},
   "encoding":{"x":{"field":"key","type":"nominal","scale":{"domain":["Ctrl|–|–","Ctrl|+|–","Ctrl|–|+","LPS|–|–","LPS|+|–","LPS|–|+"],"paddingInner":0.35,"paddingOuter":0.32},"axis":null},"y":{"datum":0,"type":"quantitative","scale":{"domain":[0,80],"nice":false},"axis":null},"text":{"field":"rrw"}}},
  {"data":{"name":"bars"},"transform":[{"filter":"datum.panel=='B2'"}],"mark":{"type":"text","dy":45,"baseline":"alphabetic","fontSize":18,"color":"black"},
   "encoding":{"x":{"field":"key","type":"nominal","scale":{"domain":["Ctrl|–|–","Ctrl|+|–","Ctrl|–|+","LPS|–|–","LPS|+|–","LPS|–|+"],"paddingInner":0.35,"paddingOuter":0.32},"axis":null},"y":{"datum":0,"type":"quantitative","scale":{"domain":[0,80],"nice":false},"axis":null},"text":{"field":"uroa"}}},
  {"data":{"name":"br"},"transform":[{"filter":"datum.grp=='Ctrl'"}],"mark":{"type":"text","dy":26.5,"xOffset":-68,"align":"left","baseline":"alphabetic","fontSize":20,"fontWeight":"bold","color":"black","lineHeight":20.5,"text":["RRW","UroA"]},
   "encoding":{"x":{"field":"first","type":"nominal","scale":{"domain":["Ctrl|–|–","Ctrl|+|–","Ctrl|–|+","LPS|–|–","LPS|+|–","LPS|–|+"],"paddingInner":0.35,"paddingOuter":0.32},"axis":null},"y":{"datum":0,"type":"quantitative","scale":{"domain":[0,80],"nice":false},"axis":null}}},
  {"data":{"name":"br"},"mark":{"type":"rule","color":"black","strokeWidth":2,"strokeCap":"square","yOffset":-12,"xOffset":{"expr":"datum.grp=='Ctrl'?-10:-14"},"x2Offset":{"expr":"datum.grp=='Ctrl'?5:15"}},
   "encoding":{"x":{"field":"first","type":"nominal","scale":{"domain":["Ctrl|–|–","Ctrl|+|–","Ctrl|–|+","LPS|–|–","LPS|+|–","LPS|–|+"],"paddingInner":0.35,"paddingOuter":0.32},"axis":null},"x2":{"field":"last"},"y":{"datum":80,"type":"quantitative","scale":{"domain":[0,80],"nice":false},"axis":null}}},
  {"data":{"name":"br"},"mark":{"type":"rule","color":"black","strokeWidth":2,"strokeCap":"square","yOffset":-12,"y2Offset":-7,"xOffset":{"expr":"datum.grp=='Ctrl'?-10:-14"}},
   "encoding":{"x":{"field":"first","type":"nominal","scale":{"domain":["Ctrl|–|–","Ctrl|+|–","Ctrl|–|+","LPS|–|–","LPS|+|–","LPS|–|+"],"paddingInner":0.35,"paddingOuter":0.32},"axis":null},"y":{"datum":80,"type":"quantitative","scale":{"domain":[0,80],"nice":false},"axis":null},"y2":{"datum":80}}},
  {"data":{"name":"br"},"mark":{"type":"rule","color":"black","strokeWidth":2,"strokeCap":"square","yOffset":-12,"y2Offset":-7,"xOffset":{"expr":"datum.grp=='Ctrl'?5:15"}},
   "encoding":{"x":{"field":"last","type":"nominal","scale":{"domain":["Ctrl|–|–","Ctrl|+|–","Ctrl|–|+","LPS|–|–","LPS|+|–","LPS|–|+"],"paddingInner":0.35,"paddingOuter":0.32},"axis":null},"y":{"datum":80,"type":"quantitative","scale":{"domain":[0,80],"nice":false},"axis":null},"y2":{"datum":80}}},
  {"data":{"name":"br"},"mark":{"type":"text","dy":-25,"baseline":"middle","fontSize":18,"fontWeight":"bold","color":"black","xOffset":{"expr":"datum.grp=='Ctrl'?-5:3"}},
   "encoding":{"x":{"field":"mid","type":"nominal","scale":{"domain":["Ctrl|–|–","Ctrl|+|–","Ctrl|–|+","LPS|–|–","LPS|+|–","LPS|–|+"],"paddingInner":0.35,"paddingOuter":0.32},"axis":null},"y":{"datum":80,"type":"quantitative","scale":{"domain":[0,80],"nice":false},"axis":null},"text":{"field":"grp"}}}
 ]
},
{
 "width":165,"height":166,
 "resolve":{"axis":{"x":"independent","y":"independent"}},
 "layer":[
  {"data":{"name":"bars"},"transform":[{"filter":"datum.panel=='B3'"}],"mark":{"type":"rule","color":"black","strokeWidth":1.5},
   "encoding":{"x":{"field":"key","type":"nominal","scale":{"domain":["Ctrl|–|–","Ctrl|+|–","Ctrl|–|+","LPS|–|–","LPS|+|–","LPS|–|+"],"paddingInner":0.35,"paddingOuter":0.32},"axis":{"title":null,"labels":false,"ticks":false,"grid":false,"domainColor":"black","domainWidth":2}},
    "y":{"field":"mean","type":"quantitative","scale":{"domain":[0,10],"nice":false},"axis":{"title":"Tnf/Hprt","values":[0,2,4,6,8,10],"format":".0f","zindex":1,"grid":false,"domainColor":"black","domainWidth":2,"tickColor":"black","tickWidth":2,"tickSize":6,"labelFont":"Liberation Sans","labelFontSize":18,"labelFontWeight":"bold","labelColor":"black","labelPadding":2,"labelFlush":false,"labelOverlap":false,"labelBound":false,"titleFont":"Liberation Sans","titleFontSize":17,"titleFontStyle":"italic","titleFontWeight":"bold","titleColor":"black","titlePadding":8}},"y2":{"field":"hi"}}},
  {"data":{"name":"bars"},"transform":[{"filter":"datum.panel=='B3'"}],"mark":{"type":"tick","color":"black","thickness":1.5,"size":10},
   "encoding":{"x":{"field":"key","type":"nominal","scale":{"domain":["Ctrl|–|–","Ctrl|+|–","Ctrl|–|+","LPS|–|–","LPS|+|–","LPS|–|+"],"paddingInner":0.35,"paddingOuter":0.32},"axis":null},"y":{"field":"hi","type":"quantitative","scale":{"domain":[0,10],"nice":false},"axis":null}}},
  {"data":{"name":"bars"},"transform":[{"filter":"datum.panel=='B3'"}],"mark":{"type":"bar","stroke":"black","strokeWidth":1.5,"fill":{"expr":"datum.grp=='Ctrl'?'white':datum.trt=='none'?'black':datum.trt=='RRW'?{gradient:'linear',x1:0,y1:0,x2:2898.5/(290.7+pow(16.6*datum.mean,2)),y2:170*16.6*datum.mean/(290.7+pow(16.6*datum.mean,2)),stops:stopsR}:{gradient:'linear',x1:0,y1:1,x2:1841.4/(290.7+pow(16.6*datum.mean,2)),y2:1-108*16.6*datum.mean/(290.7+pow(16.6*datum.mean,2)),stops:stopsU}"}},
   "encoding":{"x":{"field":"key","type":"nominal","scale":{"domain":["Ctrl|–|–","Ctrl|+|–","Ctrl|–|+","LPS|–|–","LPS|+|–","LPS|–|+"],"paddingInner":0.35,"paddingOuter":0.32},"axis":null},"y":{"field":"mean","type":"quantitative","scale":{"domain":[0,10],"nice":false},"axis":null}}},
  {"data":{"name":"bars"},"transform":[{"filter":"datum.panel=='B3'"}],"mark":{"type":"text","dy":-9,"baseline":"alphabetic","fontSize":16,"fontWeight":"bold","color":"black"},
   "encoding":{"x":{"field":"key","type":"nominal","scale":{"domain":["Ctrl|–|–","Ctrl|+|–","Ctrl|–|+","LPS|–|–","LPS|+|–","LPS|–|+"],"paddingInner":0.35,"paddingOuter":0.32},"axis":null},"y":{"field":"hi","type":"quantitative","scale":{"domain":[0,10],"nice":false},"axis":null},"text":{"field":"letter"}}},
  {"data":{"name":"bars"},"transform":[{"filter":"datum.panel=='B3'"}],"mark":{"type":"text","dy":25,"baseline":"alphabetic","fontSize":18,"color":"black"},
   "encoding":{"x":{"field":"key","type":"nominal","scale":{"domain":["Ctrl|–|–","Ctrl|+|–","Ctrl|–|+","LPS|–|–","LPS|+|–","LPS|–|+"],"paddingInner":0.35,"paddingOuter":0.32},"axis":null},"y":{"datum":0,"type":"quantitative","scale":{"domain":[0,10],"nice":false},"axis":null},"text":{"field":"rrw"}}},
  {"data":{"name":"bars"},"transform":[{"filter":"datum.panel=='B3'"}],"mark":{"type":"text","dy":45,"baseline":"alphabetic","fontSize":18,"color":"black"},
   "encoding":{"x":{"field":"key","type":"nominal","scale":{"domain":["Ctrl|–|–","Ctrl|+|–","Ctrl|–|+","LPS|–|–","LPS|+|–","LPS|–|+"],"paddingInner":0.35,"paddingOuter":0.32},"axis":null},"y":{"datum":0,"type":"quantitative","scale":{"domain":[0,10],"nice":false},"axis":null},"text":{"field":"uroa"}}},
  {"data":{"name":"br"},"transform":[{"filter":"datum.grp=='Ctrl'"}],"mark":{"type":"text","dy":26.5,"xOffset":-68,"align":"left","baseline":"alphabetic","fontSize":20,"fontWeight":"bold","color":"black","lineHeight":20.5,"text":["RRW","UroA"]},
   "encoding":{"x":{"field":"first","type":"nominal","scale":{"domain":["Ctrl|–|–","Ctrl|+|–","Ctrl|–|+","LPS|–|–","LPS|+|–","LPS|–|+"],"paddingInner":0.35,"paddingOuter":0.32},"axis":null},"y":{"datum":0,"type":"quantitative","scale":{"domain":[0,10],"nice":false},"axis":null}}},
  {"data":{"name":"br"},"mark":{"type":"rule","color":"black","strokeWidth":2,"strokeCap":"square","yOffset":-12,"xOffset":{"expr":"datum.grp=='Ctrl'?-10:-14"},"x2Offset":{"expr":"datum.grp=='Ctrl'?5:15"}},
   "encoding":{"x":{"field":"first","type":"nominal","scale":{"domain":["Ctrl|–|–","Ctrl|+|–","Ctrl|–|+","LPS|–|–","LPS|+|–","LPS|–|+"],"paddingInner":0.35,"paddingOuter":0.32},"axis":null},"x2":{"field":"last"},"y":{"datum":10,"type":"quantitative","scale":{"domain":[0,10],"nice":false},"axis":null}}},
  {"data":{"name":"br"},"mark":{"type":"rule","color":"black","strokeWidth":2,"strokeCap":"square","yOffset":-12,"y2Offset":-7,"xOffset":{"expr":"datum.grp=='Ctrl'?-10:-14"}},
   "encoding":{"x":{"field":"first","type":"nominal","scale":{"domain":["Ctrl|–|–","Ctrl|+|–","Ctrl|–|+","LPS|–|–","LPS|+|–","LPS|–|+"],"paddingInner":0.35,"paddingOuter":0.32},"axis":null},"y":{"datum":10,"type":"quantitative","scale":{"domain":[0,10],"nice":false},"axis":null},"y2":{"datum":10}}},
  {"data":{"name":"br"},"mark":{"type":"rule","color":"black","strokeWidth":2,"strokeCap":"square","yOffset":-12,"y2Offset":-7,"xOffset":{"expr":"datum.grp=='Ctrl'?5:15"}},
   "encoding":{"x":{"field":"last","type":"nominal","scale":{"domain":["Ctrl|–|–","Ctrl|+|–","Ctrl|–|+","LPS|–|–","LPS|+|–","LPS|–|+"],"paddingInner":0.35,"paddingOuter":0.32},"axis":null},"y":{"datum":10,"type":"quantitative","scale":{"domain":[0,10],"nice":false},"axis":null},"y2":{"datum":10}}},
  {"data":{"name":"br"},"mark":{"type":"text","dy":-25,"baseline":"middle","fontSize":18,"fontWeight":"bold","color":"black","xOffset":{"expr":"datum.grp=='Ctrl'?-5:3"}},
   "encoding":{"x":{"field":"mid","type":"nominal","scale":{"domain":["Ctrl|–|–","Ctrl|+|–","Ctrl|–|+","LPS|–|–","LPS|+|–","LPS|–|+"],"paddingInner":0.35,"paddingOuter":0.32},"axis":null},"y":{"datum":10,"type":"quantitative","scale":{"domain":[0,10],"nice":false},"axis":null},"text":{"field":"grp"}}}
 ]
}
],
"config":{
 "view":{"stroke":null},
 "font":"Liberation Sans"
}
}
